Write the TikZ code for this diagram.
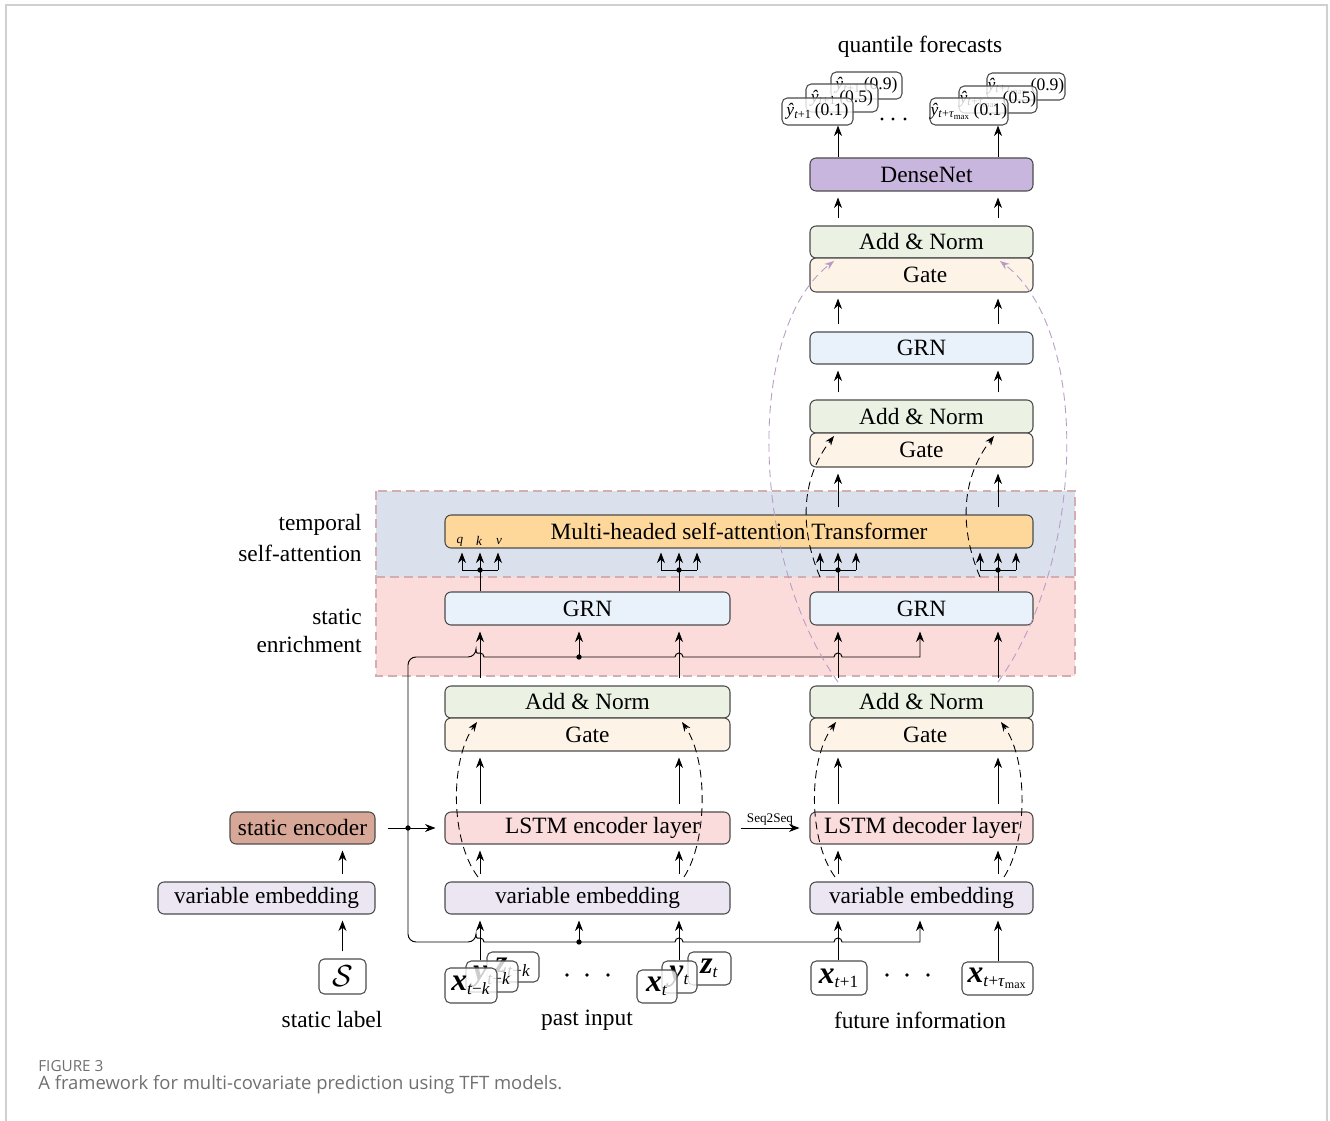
\documentclass[tikz,border=0pt]{standalone}
\usepackage{fontspec}
\setmainfont{Liberation Serif}
\newfontfamily\capfont{Open Sans}
\usetikzlibrary{arrows.meta}

\definecolor{cAdd}{HTML}{EBF1E3}
\definecolor{cGate}{HTML}{FDF3E7}
\definecolor{cGRN}{HTML}{E9F2FA}
\definecolor{cLSTM}{HTML}{F9DCDB}
\definecolor{cEmb}{HTML}{ECE6F2}
\definecolor{cEnc}{HTML}{D7A897}
\definecolor{cDense}{HTML}{C9B6DF}
\definecolor{cMHA}{HTML}{FDD89A}
\definecolor{cBandT}{HTML}{DAE1ED}
\definecolor{cBandS}{HTML}{FCDCDA}
\definecolor{cBandLine}{HTML}{D2AEB0}
\definecolor{cSkipP}{HTML}{B79CC6}
\definecolor{cCap}{HTML}{707070}
\definecolor{cFrame}{HTML}{D0D0D0}

% box from corner (#3,#4) to corner (#5,#6), in pixel-like units
\newcommand\bx[7][blk]{\node[#1,minimum width={(#5-#3)*0.02cm},minimum height={(#6-#4)*0.02cm}] (#2) at ({(#3+#5)/2},{(#4+#6)/2}) {#7};}
\newcommand\bi[1]{{\fontsize{18}{20}\selectfont\textbf{\textit{#1}}}}
\newcommand\yhat{\textit{ŷ}}

\begin{document}
\begin{tikzpicture}[x=0.02cm,y=-0.02cm,
  blk/.style={draw=black!70, line width=0.6pt, rounded corners=3.5pt, inner sep=0pt, font=\fontsize{13.3}{16}\selectfont},
  inbox/.style={draw=black!70, line width=0.6pt, rounded corners=3pt, fill=white, fill opacity=0.8, text opacity=1, inner sep=0pt, font=\fontsize{14}{17}\selectfont},
  qbox/.style={inbox, font=\fontsize{10}{12}\selectfont},
  lab/.style={inner sep=0pt, font=\fontsize{13.3}{16}\selectfont},
  line/.style={line width=0.55pt},
  arr/.style={line width=0.55pt, -{Stealth[length=2.1mm,width=1.6mm]}},
  gap/.style={shorten <=0.14cm, shorten >=0.12cm},
  dskip/.style={line width=0.5pt, dash pattern=on 4.5pt off 2.8pt, -{Stealth[length=1.9mm,width=1.4mm]}},
  pskip/.style={dskip, color=cSkipP}]

\useasboundingbox (0,0) rectangle (1330,1121);
\fill[white] (0,0) rectangle (1330,1121);
\draw[cFrame, line width=0.8pt] (6,1121) -- (6,5) -- (1327,5) -- (1327,1121);

% ---- background bands
\fill[cBandT] (376,491) rectangle (1075,577);
\fill[cBandS] (376,577) rectangle (1075,676);
\draw[cBandLine, line width=0.6pt, dash pattern=on 5pt off 3pt] (376,491) rectangle (1075,676);
\draw[cBandLine, line width=0.6pt, dash pattern=on 5pt off 3pt] (376,577) -- (1075,577);

\node[lab, anchor=east] (lt1) at (362,525) {temporal};
\node[lab, anchor=east] (lt2) at (362,553) {self-attention};
\node[lab, anchor=east] (ls1) at (362,617) {static};
\node[lab, anchor=east] (ls2) at (362,645) {enrichment};

% ---- column positions
\coordinate (cA) at (480,0);
\coordinate (cB) at (679,0);
\coordinate (cC) at (838,0);
\coordinate (cD) at (998,0);

% ---- main blocks
\bx[blk,fill=cMHA]{mha}{445}{515}{1033}{548}{Multi-headed self-attention Transformer}
\bx[blk,fill=cGRN]{grnL}{445}{592}{730}{625}{GRN}
\bx[blk,fill=cGRN]{grnR}{810}{592}{1033}{625}{GRN}
\bx[blk,fill=cAdd]{anL}{445}{686}{730}{718}{Add \& Norm}
\bx[blk,fill=cGate]{gateL}{445}{718}{730}{751}{Gate}
\bx[blk,fill=cAdd]{anR}{810}{686}{1033}{718}{Add \& Norm}
\bx[blk,fill=cGate]{gateR}{810}{718}{1033}{751}{\hspace*{0.15cm}Gate}
\bx[blk,fill=cLSTM]{lstmE}{445}{812}{730}{844}{\hspace*{0.6cm}LSTM encoder layer}
\bx[blk,fill=cLSTM]{lstmD}{810}{812}{1033}{844}{LSTM decoder layer}
\bx[blk,fill=cEmb]{vembL}{445}{882}{730}{914}{variable embedding}
\bx[blk,fill=cEmb]{vembR}{810}{882}{1033}{914}{variable embedding}
\bx[blk,fill=cEmb]{vembS}{158}{882}{375}{914}{variable embedding}
\bx[blk,fill=cEnc]{stEnc}{230}{812}{375}{844}{static encoder}
\bx[blk,fill=cAdd]{anM}{810}{400}{1033}{433}{Add \& Norm}
\bx[blk,fill=cGate]{gateM}{810}{433}{1033}{467}{Gate}
\bx[blk,fill=cGRN]{grnT}{810}{332}{1033}{364}{GRN}
\bx[blk,fill=cAdd]{anT}{810}{226}{1033}{258}{Add \& Norm}
\bx[blk,fill=cGate]{gateT}{810}{258}{1033}{292}{\hspace*{0.15cm}Gate}
\bx[blk,fill=cDense]{dense}{810}{158}{1033}{191}{\hspace*{0.2cm}DenseNet}

\node[inner sep=0pt, font=\fontsize{7.5}{9}\selectfont\itshape] (lq) at (460,542) {q};
\node[inner sep=0pt, font=\fontsize{7.5}{9}\selectfont\itshape] (lk) at (479,541) {k};
\node[inner sep=0pt, font=\fontsize{7.5}{9}\selectfont\itshape] (lv) at (499,542) {v};

% ---- quantile outputs
\node[lab] (qf) at (920,47) {quantile forecasts};
\bx[qbox]{qa3}{831}{72}{902}{99}{\yhat\textsubscript{\textit{t}+1}\,(0.9)}
\bx[qbox]{qa2}{806}{84}{878}{112}{\yhat\textsubscript{\textit{t}+1}\,(0.5)}
\bx[qbox]{qa1}{782}{98}{853}{125}{\yhat\textsubscript{\textit{t}+1}\,(0.1)}
\bx[qbox]{qb3}{987}{73}{1065}{100}{\yhat\textsubscript{\textit{t}+\textit{τ}\textsubscript{max}}\,(0.9)}
\bx[qbox]{qb2}{959}{86}{1037}{113}{\yhat\textsubscript{\textit{t}+\textit{τ}\textsubscript{max}}\,(0.5)}
\bx[qbox]{qb1}{930}{98}{1008}{125}{\yhat\textsubscript{\textit{t}+\textit{τ}\textsubscript{max}}\,(0.1)}
\foreach \p in {882,893,905} \fill (\p,119) circle[radius=0.9pt];

% ---- inputs
\bx[inbox]{zp1}{487}{952}{539}{982}{\bi{z}\textsubscript{\textit{t}−\textit{k}}}
\bx[inbox]{yp1}{466}{961}{518}{992}{\bi{y}\textsubscript{\textit{t}−\textit{k}}}
\bx[inbox]{xp1}{445}{968}{497}{1003}{\bi{x}\textsubscript{\textit{t}−\textit{k}}}
\bx[inbox]{zp2}{688}{952}{731}{985}{\bi{z}\textsubscript{\textit{t}}}
\bx[inbox]{yp2}{662}{961}{697}{993}{\bi{y}\textsubscript{\textit{t}}}
\bx[inbox]{xp2}{637}{970}{677}{1003}{\bi{x}\textsubscript{\textit{t}}}
\bx[inbox]{xf1}{811}{961}{867}{995}{\bi{x}\textsubscript{\textit{t}+1}}
\bx[inbox]{xf2}{962}{962}{1033}{995}{\bi{x}\textsubscript{\textit{t}+\textit{τ}\textsubscript{max}}}
\bx[inbox,font=\fontsize{17}{20}\selectfont]{sbox}{319}{959}{366}{994}{$\mathcal{S}$}
\foreach \p in {567,587,608,887,907,928} \fill (\p,975) circle[radius=1pt];

\node[lab] (tsl) at (332,1020) {static label};
\node[lab] (tpi) at (587,1020) {past input};
\node[lab] (tfi) at (920,1020) {future information};

% ---- upper decoder stack
\foreach \c in {cC,cD}{
  \draw[arr,gap] (anT.north -| \c) -- (dense.south -| \c);
  \draw[arr,gap] (grnT.north -| \c) -- (gateT.south -| \c);
  \draw[arr,gap] (anM.north -| \c) -- (grnT.south -| \c);
  \draw[arr,gap] (mha.north -| \c) -- (gateM.south -| \c);
}
\draw[arr] (dense.north -| cC) -- (qa1.south -| cC);
\draw[arr] (dense.north -| cD) -- (qb1.south -| cD);

% ---- q/k/v forks into the attention block
\foreach \c/\g in {480/grnL,679/grnL,838/grnR,998/grnR}{
  \coordinate (fk) at (\c,570);
  \draw[line] (\g.north -| fk) -- (fk);
  \draw[line] ({\c-18},570) -- ({\c+18},570);
  \foreach \d in {-18,0,18}{
    \coordinate (fb) at ({\c+\d},570);
    \draw[arr, shorten >=0.08cm] (fb) -- (fb |- mha.south);
  }
  \fill (fk) circle[radius=1.5pt];
}

% ---- encoder / decoder columns
\foreach \c/\a/\l/\v in {cA/anL/lstmE/vembL, cB/anL/lstmE/vembL, cC/anR/lstmD/vembR, cD/anR/lstmD/vembR}{
  \draw[arr,gap] (\a.north -| \c) -- (grnL.south -| \c);
  \draw[arr,gap] (\l.north -| \c) -- (gateL.south -| \c);
  \draw[arr,gap] (\v.north -| \c) -- (lstmE.south -| \c);
}
\draw[arr, shorten >=0.12cm] (yp1.north -| cA) -- (vembL.south -| cA);
\draw[arr, shorten >=0.12cm] (yp2.north -| cB) -- (vembL.south -| cB);
\draw[arr, shorten >=0.12cm] (xf1.north -| cC) -- (vembR.south -| cC);
\draw[arr, shorten >=0.12cm] (xf2.north -| cD) -- (vembR.south -| cD);

% ---- static context
\draw[arr,gap] (sbox.north) -- (sbox.north |- vembS.south);
\draw[arr,gap] (vembS.north -| sbox.north) -- (sbox.north |- stEnc.south);
\draw[arr, shorten <=0.24cm, shorten >=0.18cm] (stEnc.east) -- (lstmE.west);
\draw[arr, shorten >=0.12cm] (408,828) [rounded corners=0.16cm] -- (408,657) -- (476,657) [sharp corners]
  arc[start angle=180,end angle=0,radius=0.08cm] -- (675,657)
  arc[start angle=180,end angle=0,radius=0.08cm] -- (834,657)
  arc[start angle=180,end angle=0,radius=0.08cm] -- (920,657) -- (grnR.south -| 920,0);
\draw[arr, shorten >=0.12cm] (408,828) [rounded corners=0.16cm] -- (408,942) -- (476,942) [sharp corners]
  arc[start angle=180,end angle=0,radius=0.08cm] -- (675,942)
  arc[start angle=180,end angle=0,radius=0.08cm] -- (834,942)
  arc[start angle=180,end angle=0,radius=0.08cm] -- (920,942) -- (vembR.south -| 920,0);
\coordinate (se1) at (579,657);
\coordinate (se2) at (579,942);
\draw[arr, shorten >=0.12cm] (se1) -- (se1 |- grnL.south);
\draw[arr, shorten >=0.12cm] (se2) -- (se2 |- vembL.south);
\fill (se1) circle[radius=1.5pt];
\fill (se2) circle[radius=1.5pt];
\fill (408,828) circle[radius=1.5pt];

% ---- sequence to sequence link
\draw[arr, shorten <=0.2cm, shorten >=0.2cm] (lstmE.east) -- (lstmD.west)
  node[midway, above=1.5pt, inner sep=0pt, font=\fontsize{7.5}{9}\selectfont] (s2s) {Seq2Seq};

% ---- gated skip connections
\draw[dskip] (478,877) .. controls (450,840) and (450,760) .. (477,722);
\draw[dskip] (684,877) .. controls (708,840) and (708,760) .. (682,722);
\draw[dskip] (835,877) .. controls (808,840) and (808,760) .. (836,722);
\draw[dskip] (1004,877) .. controls (1028,840) and (1028,760) .. (1001,722);
\draw[dskip] (820,577) .. controls (800,530) and (800,480) .. (834,436);
\draw[dskip] (980,577) .. controls (960,530) and (960,480) .. (994,436);
\draw[pskip] (838,682) .. controls (750,560) and (745,330) .. (834,261);
\draw[pskip] (998,682) .. controls (1086,560) and (1091,330) .. (1000,261);

% ---- caption
\node[anchor=west, inner sep=0pt, text=cCap, font=\capfont\fontsize{8.7}{10}\selectfont] (figno) at (38,1066) {FIGURE 3};
\node[anchor=west, inner sep=0pt, text=cCap, font=\capfont\fontsize{10.5}{12}\selectfont] (figcap) at (38,1085) {A framework for multi-covariate prediction using TFT models.};
\end{tikzpicture}
\end{document}
